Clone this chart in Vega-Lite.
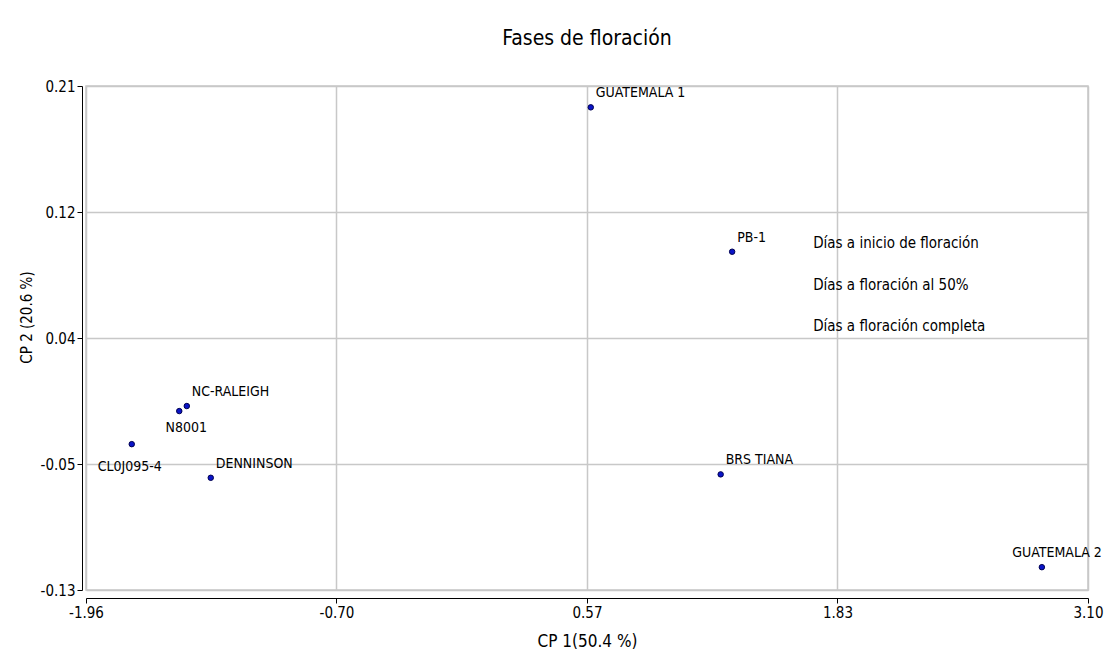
{
  "$schema": "https://vega.github.io/schema/vega-lite/v6.json",
  "autosize": "none",
  "width": 1002,
  "height": 504,
  "padding": {"left": 86, "top": 86, "right": 17, "bottom": 67},
  "background": "white",
  "config": {
    "font": "Liberation Sans Narrow, DejaVu Sans Condensed, Liberation Sans, sans-serif",
    "view": {"stroke": "#c8c8c8", "strokeWidth": 1.5},
    "axis": {
      "domainColor": "black",
      "tickColor": "black",
      "labelColor": "black",
      "titleColor": "black",
      "gridColor": "#c8c8c8",
      "gridWidth": 1.5,
      "labelFont": "Liberation Sans Narrow, DejaVu Sans Condensed, Liberation Sans, sans-serif",
      "titleFont": "Liberation Sans Narrow, DejaVu Sans Condensed, Liberation Sans, sans-serif",
      "labelFontSize": 15,
      "titleFontWeight": "normal"
    },
    "text": {"font": "Liberation Sans Narrow, DejaVu Sans Condensed, Liberation Sans, sans-serif"}
  },
  "title": {
    "text": "Fases de floración",
    "fontSize": 21,
    "fontWeight": "normal",
    "font": "Liberation Sans Narrow, DejaVu Sans Condensed, Liberation Sans, sans-serif",
    "color": "black",
    "anchor": "middle",
    "offset": 30
  },
  "datasets": {
    "obs": [
      {"name": "GUATEMALA 1", "cp1": 0.589, "cp2": 0.1956},
      {"name": "PB-1", "cp1": 1.303, "cp2": 0.0982},
      {"name": "NC-RALEIGH", "cp1": -1.451, "cp2": -0.0059},
      {"name": "N8001", "cp1": -1.489, "cp2": -0.0093},
      {"name": "CL0J095-4", "cp1": -1.729, "cp2": -0.0316},
      {"name": "DENNINSON", "cp1": -1.33, "cp2": -0.0543},
      {"name": "BRS TIANA", "cp1": 1.245, "cp2": -0.052},
      {"name": "GUATEMALA 2", "cp1": 2.867, "cp2": -0.1146}
    ],
    "vars": [
      {"name": "Días a inicio de floración", "cp1": 1.712, "cp2": 0.1043},
      {"name": "Días a floración al 50%", "cp1": 1.712, "cp2": 0.0757},
      {"name": "Días a floración completa", "cp1": 1.712, "cp2": 0.048}
    ]
  },
  "encoding": {
    "x": {
      "field": "cp1",
      "type": "quantitative",
      "scale": {"domain": [-1.96, 3.1], "nice": false, "zero": false},
      "axis": {
        "title": "CP 1(50.4 %)",
        "titleFontSize": 17,
        "titlePadding": 13,
        "values": [-1.96, -0.6951, 0.57, 1.8349, 3.1],
        "labelExpr": "replace(format(datum.value, '.2f'), '−', '-')",
        "offset": 8,
        "tickSize": 5,
        "labelPadding": 2,
        "labelFlush": false,
        "labelOverlap": false
      }
    },
    "y": {
      "field": "cp2",
      "type": "quantitative",
      "scale": {"domain": [-0.13, 0.21], "nice": false, "zero": false},
      "axis": {
        "title": "CP 2 (20.6 %)",
        "titleFontSize": 15,
        "titleX": -56,
        "titleY": 231,
        "titleAlign": "center",
        "titleBaseline": "middle",
        "titleAngle": -90,
        "values": [-0.13, -0.0451, 0.04, 0.1249, 0.21],
        "labelExpr": "replace(format(datum.value, '.2f'), '−', '-')",
        "offset": 4,
        "tickSize": 5,
        "labelPadding": 2,
        "labelFlush": false,
        "labelOverlap": false
      }
    }
  },
  "layer": [
    {
      "data": {"name": "obs"},
      "mark": {"type": "point", "filled": true, "size": 30, "fill": "#0a14c8", "stroke": "#000050", "strokeWidth": 1, "opacity": 1}
    },
    {
      "data": {"name": "obs"},
      "transform": [{"filter": {"field": "name", "oneOf": ["GUATEMALA 1", "PB-1", "NC-RALEIGH", "DENNINSON", "BRS TIANA"]}}],
      "mark": {"type": "text", "align": "left", "baseline": "middle", "dx": 5, "dy": -14, "fontSize": 14, "color": "black"},
      "encoding": {"text": {"field": "name"}}
    },
    {
      "data": {"name": "obs"},
      "transform": [{"filter": {"field": "name", "equal": "GUATEMALA 2"}}],
      "mark": {"type": "text", "align": "right", "baseline": "middle", "dx": 60, "dy": -14, "fontSize": 14, "color": "black"},
      "encoding": {"text": {"field": "name"}}
    },
    {
      "data": {"name": "obs"},
      "transform": [{"filter": {"field": "name", "equal": "N8001"}}],
      "mark": {"type": "text", "align": "center", "baseline": "middle", "dx": 7, "dy": 17, "fontSize": 14, "color": "black"},
      "encoding": {"text": {"field": "name"}}
    },
    {
      "data": {"name": "obs"},
      "transform": [{"filter": {"field": "name", "equal": "CL0J095-4"}}],
      "mark": {"type": "text", "align": "center", "baseline": "middle", "dx": -2, "dy": 23, "fontSize": 14, "color": "black"},
      "encoding": {"text": {"field": "name"}}
    },
    {
      "data": {"name": "vars"},
      "mark": {"type": "text", "align": "left", "baseline": "middle", "fontSize": 15, "color": "black"},
      "encoding": {"text": {"field": "name"}}
    }
  ]
}
